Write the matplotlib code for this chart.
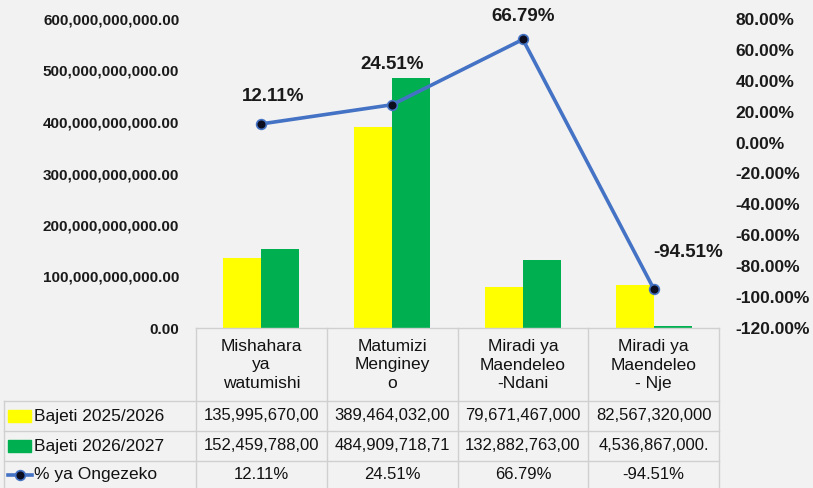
import matplotlib
matplotlib.use("Agg")
import matplotlib.pyplot as plt
from matplotlib.patches import Rectangle
from matplotlib.lines import Line2D
from matplotlib.ticker import FuncFormatter, MultipleLocator

categories = ["Mishahara\nya\nwatumishi", "Matumizi\nMenginey\no",
              "Miradi ya\nMaendeleo\n-Ndani", "Miradi ya\nMaendeleo\n- Nje"]
series_names = ["Bajeti 2025/2026", "Bajeti 2026/2027", "% ya Ongezeko"]
bajeti_2025 = [135995670000.00, 389464032000.00, 79671467000.00, 82567320000.00]
bajeti_2026 = [152459788000.00, 484909718710.00, 132882763000.00, 4536867000.00]
ongezeko = [12.11, 24.51, 66.79, -94.51]

W, H = 813, 488
BG = "#F2F2F2"
YEL = "#FFFF00"
GRN = "#00B050"
BLUE = "#4472C4"
GRID = "#D0D0D0"
SANS = ["Liberation Sans", "DejaVu Sans"]

fig = plt.figure(figsize=(W / 100, H / 100), dpi=100, facecolor=BG)

def fx(px):
    return px / W

def fy(py):
    return 1 - py / H

L, R, T, B = 196, 719, 19, 328
ax = fig.add_axes([fx(L), fy(B), fx(R) - fx(L), fy(T) - fy(B)])
ax.set_facecolor(BG)
x = list(range(len(categories)))
bw = 0.29
ax.bar([i - bw / 2 for i in x], bajeti_2025, width=bw, color=YEL, zorder=2)
ax.bar([i + bw / 2 for i in x], bajeti_2026, width=bw, color=GRN, zorder=2)
ax.set_xlim(-0.5, len(categories) - 0.5)
ax.set_ylim(0, 600e9)
ax.yaxis.set_major_locator(MultipleLocator(100e9))
ax.yaxis.set_major_formatter(FuncFormatter(lambda v, p: f"{v:,.2f}"))
ax.set_xticks([])
ax.tick_params(axis="y", length=0, pad=12)
for lab in ax.get_yticklabels():
    lab.set_fontfamily(SANS)
    lab.set_fontweight("bold")
    lab.set_fontsize(11)
    lab.set_color("#1A1A1A")
for s in ax.spines.values():
    s.set_visible(False)

ax2 = ax.twinx()
ax2.plot(x, ongezeko, color=BLUE, lw=2.6, marker="o", ms=7,
         mfc="#0D0D20", mec=BLUE, mew=1.2, zorder=3)
ax2.set_ylim(-120, 80)
ax2.yaxis.set_major_locator(MultipleLocator(20))
ax2.yaxis.set_major_formatter(FuncFormatter(lambda v, p: f"{v:.2f}%"))
ax2.tick_params(axis="y", length=0, pad=12)
for lab in ax2.get_yticklabels():
    lab.set_fontfamily(SANS)
    lab.set_fontweight("bold")
    lab.set_fontsize(12.5)
    lab.set_color("#1A1A1A")
for s in ax2.spines.values():
    s.set_visible(False)

offsets_px = [(12, 27), (0, 40), (0, 23), (34, 36)]
for i, v in enumerate(ongezeko):
    dx, dy = offsets_px[i]
    ax2.annotate(f"{v:.2f}%", (x[i], v), xytext=(dx * 0.72, dy * 0.72),
                 textcoords="offset points", ha="center", va="center",
                 fontsize=13.5, fontfamily=SANS, fontweight="bold", color="#1A1A1A")

# ---- data table ----
col_w = (R - L) / len(categories)
cols = [L + i * col_w for i in range(len(categories) + 1)]
rows = [328, 401, 431, 461, 491]
lw = 1.0
TFS = 12

def hline(y, x0, x1):
    fig.add_artist(Line2D([fx(x0), fx(x1)], [fy(y), fy(y)], color=GRID, lw=lw))

def vline(xp, y0, y1):
    fig.add_artist(Line2D([fx(xp), fx(xp)], [fy(y0), fy(y1)], color=GRID, lw=lw))

hline(rows[0], L, R)
for y in rows[1:4]:
    hline(y, 4, R)
for c in cols:
    vline(c, rows[0], H)
vline(4, rows[1], H)

for i, cat in enumerate(categories):
    fig.text(fx(cols[i] + col_w / 2), fy(365), cat, ha="center", va="center",
             fontsize=12.5, fontfamily=SANS, linespacing=1.3, color="#111111")

row_vals = [bajeti_2025, bajeti_2026]
for r, vals in enumerate(row_vals):
    yc = (rows[r + 1] + rows[r + 2]) / 2
    for i, v in enumerate(vals):
        shown = f"{v:,.2f}"[:14]  # cell is too narrow for the full number
        fig.text(fx(cols[i] + col_w / 2), fy(yc), shown, ha="center", va="center",
                 fontsize=TFS, fontfamily=SANS, color="#111111")
yc = (rows[3] + H) / 2
for i, v in enumerate(ongezeko):
    fig.text(fx(cols[i] + col_w / 2), fy(yc), f"{v:.2f}%", ha="center", va="center",
             fontsize=TFS, fontfamily=SANS, color="#111111")

# legend keys + names
keys = [YEL, GRN]
for r in range(2):
    yc = (rows[r + 1] + rows[r + 2]) / 2
    fig.add_artist(Rectangle((fx(8), fy(yc + 6)), fx(23), fy(yc - 6) - fy(yc + 6),
                             color=keys[r], transform=fig.transFigure))
yc = (rows[3] + H) / 2
fig.add_artist(Line2D([fx(8), fx(32)], [fy(yc), fy(yc)], color=BLUE, lw=2.6,
                      transform=fig.transFigure))
fig.add_artist(Line2D([fx(20)], [fy(yc)], marker="o", ms=7, mfc="#0D0D20", mec=BLUE,
                      mew=1.2, transform=fig.transFigure))
for r in range(3):
    yc = (rows[r + 1] + min(rows[r + 2], H)) / 2
    fig.text(fx(34), fy(yc), series_names[r], ha="left", va="center",
             fontsize=12.5, fontfamily=SANS, color="#111111")

fig.savefig("out.png", dpi=100, facecolor=BG)
